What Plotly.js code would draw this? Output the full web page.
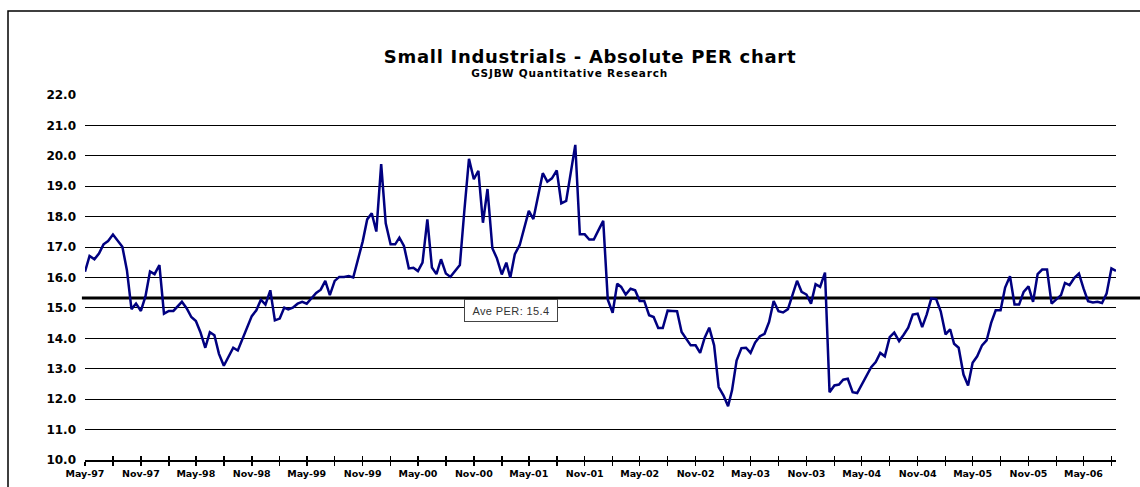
<!DOCTYPE html>
<html>
<head>
<meta charset="utf-8">
<script src="https://cdn.plot.ly/plotly-3.0.1.min.js"></script>
<style>
html,body{margin:0;padding:0;background:#fff;}
#chart{width:1140px;height:487px;}
#chart .gtitle{letter-spacing:0.7px;}
#chart .annotation-text.sub{letter-spacing:0.8px;}
#chart .annotation-text.ave{letter-spacing:0.4px;}
</style>
</head>
<body>
<div id="chart"></div>
<script>
// Small Industrials absolute PER, semi-monthly readings from May-97
const perValues = [
16.19,16.71,16.60,16.79,17.09,17.20,17.41,17.23,17.01,16.24,
14.96,15.14,14.90,15.38,16.20,16.11,16.41,14.81,14.90,14.90,
15.03,15.20,14.98,14.70,14.57,14.20,13.69,14.20,14.10,13.49,
13.10,13.38,13.69,13.60,13.97,14.30,14.73,14.92,15.27,15.11,
15.58,14.59,14.65,15.01,14.95,15.01,15.14,15.20,15.14,15.31,
15.49,15.60,15.89,15.42,15.89,16.02,16.02,16.05,16.00,16.57,
17.18,17.91,18.11,17.51,19.73,17.78,17.09,17.09,17.31,17.04,
16.30,16.32,16.21,16.49,17.91,16.33,16.11,16.60,16.13,16.02,
16.22,16.41,18.22,19.90,19.23,19.51,17.80,18.91,16.96,16.63,
16.10,16.49,15.99,16.77,17.07,17.62,18.19,17.92,18.66,19.43,
19.15,19.26,19.52,18.44,18.52,19.43,20.36,17.42,17.42,17.25,
17.25,17.55,17.86,
15.27,14.84,15.80,15.69,15.44,15.63,15.58,15.23,15.23,14.76,
14.70,14.34,14.34,14.91,14.90,14.89,14.21,13.99,13.77,13.77,
13.52,14.02,14.35,13.77,12.40,12.12,11.77,12.29,13.27,13.68,
13.69,13.52,13.86,14.07,14.15,14.54,15.23,14.89,14.85,14.96,
15.44,15.89,15.53,15.44,15.14,15.78,15.69,16.16,12.23,12.45,
12.48,12.64,12.67,12.23,12.20,12.48,12.78,13.05,13.22,13.52,
13.41,14.04,14.19,13.91,14.12,14.35,14.78,14.81,14.37,14.79,
15.31,15.29,14.89,14.13,14.30,13.82,13.69,12.81,12.45,13.20,
13.41,13.77,13.93,14.51,14.92,14.92,15.67,16.04,15.11,15.11,
15.53,15.71,15.20,16.11,16.26,16.26,15.14,15.29,15.42,15.82,
15.75,15.99,16.13,15.64,15.22,15.18,15.20,15.16,15.47,16.30,
16.22
];
const startDate = {year: 1997, month: 5};
const avePER = 15.33;
const aveLabel = "Ave PER: 15.4";
const xTickLabels = ["May-97","Nov-97","May-98","Nov-98","May-99","Nov-99","May-00","Nov-00",
  "May-01","Nov-01","May-02","Nov-02","May-03","Nov-03","May-04","Nov-04","May-05","Nov-05","May-06"];
const titleText = "Small Industrials - Absolute PER chart";
const subtitleText = "GSJBW Quantitative Research";

function pad(n){return (n<10?'0':'')+n;}
function dateAt(monthOffset, day){
  const m0 = startDate.month - 1 + monthOffset;
  const y = startDate.year + Math.floor(m0/12);
  const m = (m0 % 12) + 1;
  return y + '-' + pad(m) + '-' + pad(day);
}
const dates = perValues.map((v,i)=>dateAt(Math.floor(i/2), i%2 ? 16 : 1));
const tickVals = xTickLabels.map((t,i)=>dateAt(i*6, 1));
const xRange = [dates[0], dates[dates.length-1]];

const FONT = "DejaVu Sans, Verdana, sans-serif";

const trace = {
  x: dates, y: perValues, type: 'scatter', mode: 'lines',
  line: {color: '#000080', width: 2.5}, hoverinfo: 'skip', showlegend: false
};
const ghost = {
  x: dates, y: perValues, type: 'scatter', mode: 'lines', xaxis: 'x2',
  line: {color: 'rgba(0,0,0,0)', width: 0}, hoverinfo: 'skip', showlegend: false
};

const layout = {
  width: 1140, height: 487,
  margin: {l: 85, r: 24, t: 95, b: 27},
  paper_bgcolor: '#fff', plot_bgcolor: '#fff',
  title: {
    text: titleText,
    font: {family: FONT, size: 18, color: '#000', weight: 'bold'},
    x: 590/1140, xanchor: 'center', xref: 'container',
    y: 1 - 57/487, yanchor: 'middle', yref: 'container'
  },
  xaxis: {
    type: 'date', range: xRange,
    tickvals: tickVals, ticktext: xTickLabels,
    ticks: 'outside', ticklen: 4, tickwidth: 1.5, tickcolor: '#000',
    minor: {dtick: 'M3', tick0: dateAt(0,1), ticks: 'outside', ticklen: 4, tickwidth: 1.5, tickcolor: '#000', showgrid: false},
    tickfont: {family: FONT, size: 9.5, color: '#000', weight: 'bold'},
    showgrid: false, zeroline: false,
    showline: true, linecolor: '#000', linewidth: 2
  },
  xaxis2: {
    type: 'date', range: xRange, overlaying: 'x', anchor: 'y', side: 'bottom',
    tickvals: tickVals, showticklabels: false,
    ticks: 'inside', ticklen: 4, tickwidth: 1.5, tickcolor: '#000',
    minor: {dtick: 'M3', tick0: dateAt(0,1), ticks: 'inside', ticklen: 4, tickwidth: 1.5, tickcolor: '#000', showgrid: false},
    showgrid: false, zeroline: false, showline: false
  },
  yaxis: {
    range: [10, 22], dtick: 1, tick0: 10, tickformat: '.1f',
    ticks: '', ticklabelstandoff: 8,
    tickfont: {family: FONT, size: 12, color: '#000', weight: 'bold'},
    showgrid: true, gridcolor: '#000', gridwidth: 1,
    zeroline: false, showline: false
  },
  shapes: [
    {type: 'rect', xref: 'paper', yref: 'paper',
     x0: (8-85)/1031, x1: 1.2, y0: -0.3, y1: (460-11)/365,
     line: {color: '#000', width: 1.5}, fillcolor: 'rgba(0,0,0,0)', layer: 'below'},
    {type: 'line', xref: 'paper', yref: 'y',
     x0: -0.003, x1: 1.05, y0: avePER, y1: avePER,
     line: {color: '#000', width: 3}, layer: 'between'}
  ],
  annotations: [
    {text: subtitleText, xref: 'paper', yref: 'paper',
     x: (569-85)/1031, y: (460-73)/365, xanchor: 'center', yanchor: 'middle',
     showarrow: false, font: {family: FONT, size: 10.5, color: '#000', weight: 'bold'}},
    {text: aveLabel, xref: 'paper', yref: 'y',
     x: (511-85)/1031, y: 14.93, xanchor: 'center', yanchor: 'middle',
     showarrow: false, width: 92, height: 21,
     bgcolor: '#fff', bordercolor: '#444', borderwidth: 1, borderpad: 0,
     font: {family: 'Liberation Sans, Arial, sans-serif', size: 11, color: '#333'}}
  ]
};

Plotly.newPlot('chart', [trace, ghost], layout, {staticPlot: true, displayModeBar: false}).then(function(){
  var t = document.querySelectorAll('#chart .annotation-text');
  if (t[0]) { t[0].classList.add('sub'); }
  if (t[1]) { t[1].classList.add('ave'); }
});
</script>
</body>
</html>
